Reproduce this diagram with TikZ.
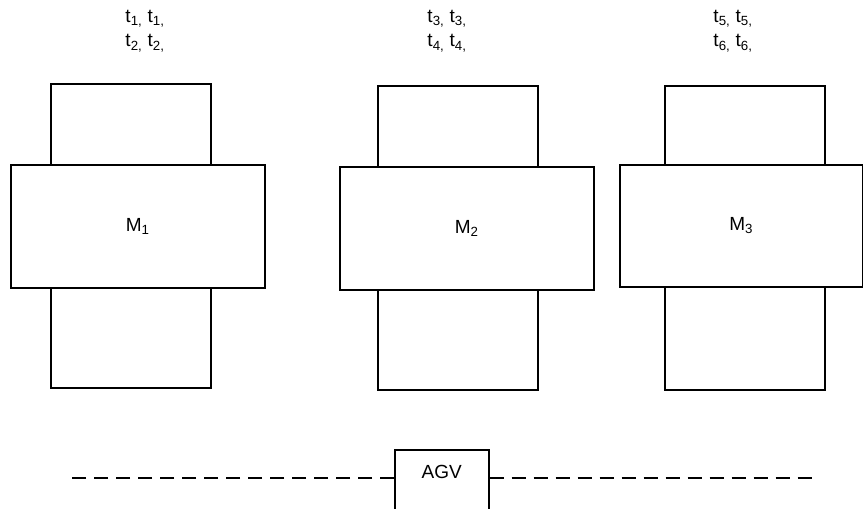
\documentclass[tikz,border=0pt]{standalone}
\usepackage{fontspec}
\setmainfont{Liberation Sans}
\begin{document}
\begin{tikzpicture}[x=1pt,y=-1pt,
  box/.style={draw=black, line width=1.5pt, fill=white, inner sep=0pt, anchor=north west},
  lbl/.style={inner sep=0pt, align=center, font=\fontsize{19}{24.5}\selectfont},
  mtext/.style={font=\fontsize{19}{22}\selectfont},
  track/.style={draw=black, line width=1.6pt, dash pattern=on 14.5pt off 7.5pt}]
\clip (0,0) rectangle (863,509);
\fill[white] (0,0) rectangle (863,509);
% Machine 1
\node[box, minimum width=160, minimum height=81] (m1t) at (50,83) {};
\node[box, minimum width=160, minimum height=100] (m1b) at (50,287) {};
\node[box, minimum width=254, minimum height=123, mtext] (m1) at (10,164) {M\textsubscript{1}};
% Machine 2
\node[box, minimum width=160, minimum height=81] (m2t) at (377,85) {};
\node[box, minimum width=160, minimum height=100] (m2b) at (377,289) {};
\node[box, minimum width=254, minimum height=123, mtext] (m2) at (339,166) {M\textsubscript{2}\hspace{8pt}};
% Machine 3
\node[box, minimum width=160, minimum height=79] (m3t) at (664,85) {};
\node[box, minimum width=160, minimum height=103] (m3b) at (664,286) {};
\node[box, minimum width=243, minimum height=122, mtext] (m3) at (619,164) {M\textsubscript{3}};
% time labels
\node[lbl] (t12) at (145,31) {t\textsubscript{1,} t\textsubscript{1,}\\t\textsubscript{2,} t\textsubscript{2,}};
\node[lbl] (t34) at (447,31) {t\textsubscript{3,} t\textsubscript{3,}\\t\textsubscript{4,} t\textsubscript{4,}};
\node[lbl] (t56) at (733,31) {t\textsubscript{5,} t\textsubscript{5,}\\t\textsubscript{6,} t\textsubscript{6,}};
% AGV
\node[box, minimum width=94, minimum height=81, mtext, text height=13, text depth=36] (agv) at (394,449) {AGV\hspace{6pt}};
\coordinate (trackL) at (72,478);
\coordinate (trackR) at (812,478);
\draw[track] (trackL -| agv.west) -- (trackL);
\draw[track] (trackR -| agv.east) -- (trackR);
\end{tikzpicture}
\end{document}
